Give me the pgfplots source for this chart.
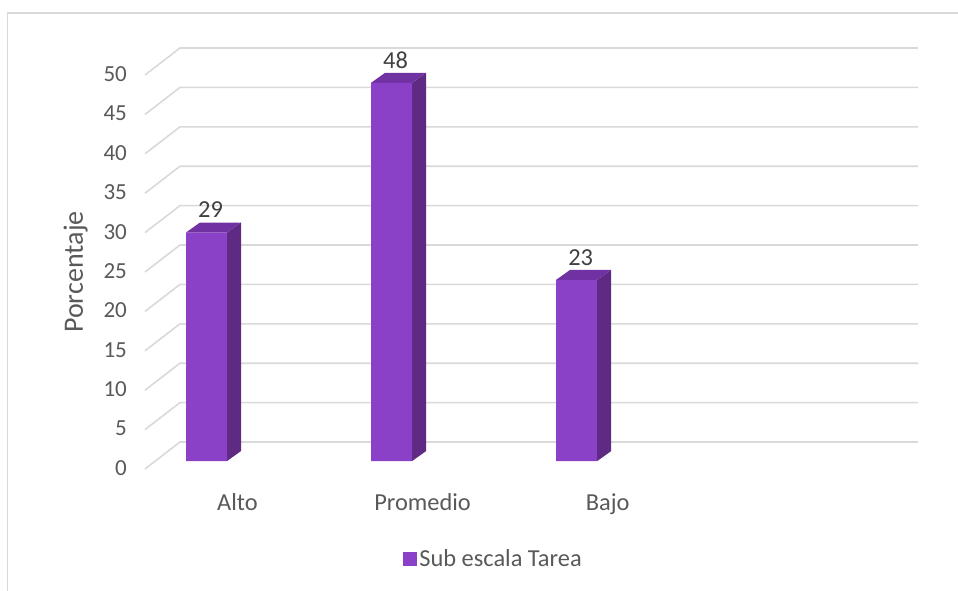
\documentclass[border=0pt]{standalone}
\usepackage{fontspec}
\setmainfont{Carlito}
\usepackage{pgfplots}
\pgfplotsset{compat=1.18}
\definecolor{barfront}{RGB}{139,64,200}
\definecolor{barside}{RGB}{94,42,132}
\definecolor{bartop}{RGB}{112,50,162}
\definecolor{gridc}{RGB}{217,217,217}
\definecolor{txt}{RGB}{89,89,89}
\definecolor{lbl}{RGB}{64,64,64}
\newcommand{\tfont}{\fontsize{23}{27}\selectfont}
\newcommand{\xfont}{\fontsize{24.4}{29}\selectfont}
\begin{document}
\begin{tikzpicture}
\useasboundingbox (0pt,0pt) rectangle (958pt,-590pt);
\draw[gridc, line width=1.3pt] (7.7pt,-700pt) -- (7.7pt,-13pt) -- (1000pt,-13pt);
\foreach \v in {0,5,...,50}{
  \draw[gridc, line width=1.6pt] (145pt,{-469pt+7.88pt*\v}) -- (180pt,{-442pt+7.88pt*\v}) -- (918pt,{-442pt+7.88pt*\v});
}
\begin{axis}[
  at={(145.4pt,-469.7pt)}, anchor=south west,
  x=185.1pt, y=7.88pt,
  xmin=-0.3301, xmax=3.840, ymin=-1.1, ymax=52.5,
  clip=false,
  axis line style={draw=none},
  major tick length=0pt,
  tick style={draw=none},
  xtick={0,1,2},
  xticklabels={Alto,Promedio,Bajo},
  ytick={0,5,...,50},
  /pgf/number format/assume math mode=true,
  ticklabel style={font=\tfont, text=txt},
  xticklabel style={font=\xfont, xshift=31pt, yshift=-20pt},
  yticklabel style={xshift=-15pt, yshift=-7pt},
  ylabel={Porcentaje},
  ylabel style={at={(axis description cs:-0.0905,0.468)}, rotate=0, anchor=center, font=\fontsize{28}{33}\selectfont, text=txt},
  legend style={at={(axis description cs:0.451,-0.2114)}, anchor=center, draw=none, fill=none, font=\xfont, text=txt},
  legend image code/.code={\fill[barfront] (-7pt,-7pt) rectangle (7pt,7pt);},
]
% side faces
\addplot[fill=barside, draw=none, forget plot] coordinates {(0.1108,0) (0.1864,1.269) (0.1864,30.269) (0.1108,29)} -- cycle;
\addplot[fill=barside, draw=none, forget plot] coordinates {(1.1108,0) (1.1864,1.269) (1.1864,49.269) (1.1108,48)} -- cycle;
\addplot[fill=barside, draw=none, forget plot] coordinates {(2.1108,0) (2.1864,1.269) (2.1864,24.269) (2.1108,23)} -- cycle;
% top faces
\addplot[fill=bartop, draw=none, forget plot] coordinates {(-0.1108,29) (0.1108,29) (0.1864,30.269) (-0.0352,30.269)} -- cycle;
\addplot[fill=bartop, draw=none, forget plot] coordinates {(0.8892,48) (1.1108,48) (1.1864,49.269) (0.9648,49.269)} -- cycle;
\addplot[fill=bartop, draw=none, forget plot] coordinates {(1.8892,23) (2.1108,23) (2.1864,24.269) (1.9648,24.269)} -- cycle;
% front faces
\addplot[ybar, bar width=41pt, bar shift=0pt, fill=barfront, draw=none,
  nodes near coords,
  nodes near coords style={font=\xfont, text=lbl, anchor=south, xshift=4pt, yshift=11pt}]
  coordinates {(0,29) (1,48) (2,23)};
\addlegendentry{Sub escala Tarea}
\end{axis}
\end{tikzpicture}
\end{document}
